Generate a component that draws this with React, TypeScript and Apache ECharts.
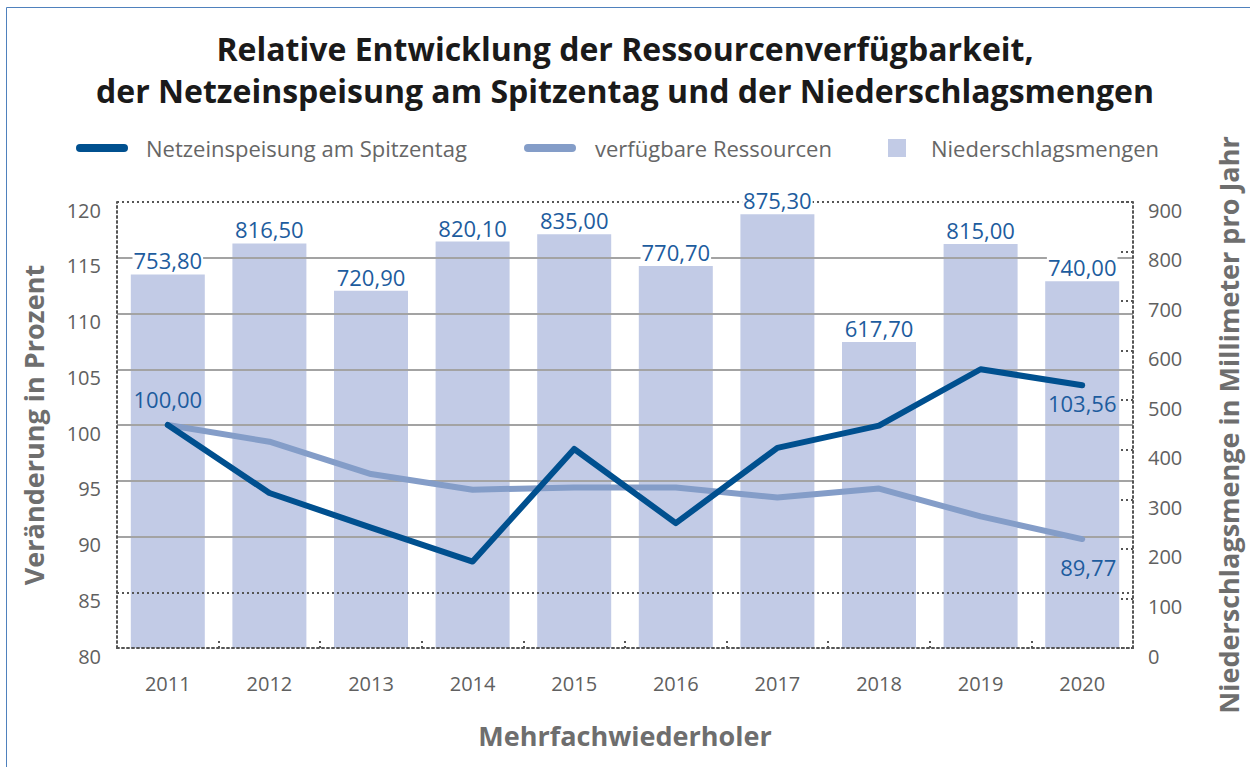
import React, { useEffect, useRef } from "react";
import * as echarts from "echarts";

const years = ["2011", "2012", "2013", "2014", "2015", "2016", "2017", "2018", "2019", "2020"];
const netzeinspeisung = [100.0, 93.9, 90.8, 87.75, 97.85, 91.2, 97.95, 99.95, 105.0, 103.56];
const ressourcen = [100.0, 98.5, 95.6, 94.2, 94.4, 94.4, 93.5, 94.3, 91.8, 89.77];
const niederschlag = [753.8, 816.5, 720.9, 820.1, 835.0, 770.7, 875.3, 617.7, 815.0, 740.0];

const leftMin = 80;
const leftMax = 120;
const leftInterval = 5;
const rightMin = 0;
const rightMax = 900;
const rightInterval = 100;

const NAME_NETZ = "Netzeinspeisung am Spitzentag";
const NAME_RES = "verfügbare Ressourcen";
const NAME_NIED = "Niederschlagsmengen";

const FONT = "'Open Sans', 'Noto Sans', sans-serif";
const DARK = "#00508f";
const LIGHT = "#849dc8";
const BAR = "#c2cbe6";
const LABEL_BLUE = "#1d5c9e";
const GREY_TEXT = "#606060";
const AXIS_TITLE = "#6e6e6e";
const GRID_GREY = "#a3a3a3";
const DOT = "#555555";
const DOT_TYPE: number[] = [2, 3];

const fmt = (v: number) => v.toFixed(2).replace(".", ",");

const capsule = "path://M4,0 L48,0 A4,4 0 0 1 48,8 L4,8 A4,4 0 0 1 4,0 Z";

export default function App() {
  const ref = useRef<HTMLDivElement>(null);

  useEffect(() => {
    if (!ref.current) return;
    const chart = echarts.init(ref.current, undefined, { renderer: "svg" });

    const last = years.length - 1;
    const netzData = netzeinspeisung.map((v, i) =>
      i === 0
        ? { value: v, label: { show: true, position: "top", distance: 15 } }
        : i === last
        ? { value: v, label: { show: true, position: "bottom", distance: 6 } }
        : v
    );
    const resData = ressourcen.map((v, i) =>
      i === last ? { value: v, label: { show: true, position: "bottom", distance: 16, offset: [6, 0] } } : v
    );

    const leftSplitColors = [
      "transparent", "transparent", GRID_GREY, GRID_GREY, GRID_GREY, GRID_GREY, GRID_GREY, GRID_GREY, "transparent",
    ];
    const dottedSplitColors = [
      "transparent", DOT, "transparent", "transparent", "transparent", "transparent", "transparent", "transparent", DOT,
    ];

    const legendText = (pad: number) => ({
      fontSize: 22,
      color: "#666666",
      fontFamily: FONT,
      padding: [0, 0, 0, pad],
    });

    const axisTitle = { fontSize: 27, fontWeight: "bold", color: AXIS_TITLE, fontFamily: FONT };

    chart.setOption({
      animation: false,
      textStyle: { fontFamily: FONT },
      title: {
        text: "Relative Entwicklung der Ressourcenverfügbarkeit,\nder Netzeinspeisung am Spitzentag und der Niederschlagsmengen",
        left: "center",
        top: 22,
        textStyle: {
          fontSize: 32,
          fontWeight: "bold",
          color: "#1a1a1a",
          fontFamily: FONT,
          lineHeight: 42,
        },
      },
      legend: [
        {
          data: [{ name: NAME_NETZ, icon: capsule }],
          left: 71,
          top: 132,
          itemWidth: 52,
          itemHeight: 8,
          textStyle: legendText(13),
          selectedMode: false,
        },
        {
          data: [{ name: NAME_RES, icon: capsule }],
          left: 519,
          top: 132,
          itemWidth: 52,
          itemHeight: 8,
          textStyle: legendText(14),
          selectedMode: false,
        },
        {
          data: [{ name: NAME_NIED, icon: "rect" }],
          left: 883,
          top: 132,
          itemWidth: 18,
          itemHeight: 18,
          textStyle: legendText(20),
          selectedMode: false,
        },
      ],
      grid: { left: 117, right: 115, top: 202, bottom: 119 },
      xAxis: {
        type: "category",
        data: years,
        z: 3,
        boundaryGap: true,
        name: "Mehrfachwiederholer",
        nameLocation: "middle",
        nameGap: 74,
        nameTextStyle: axisTitle,
        axisLine: { show: true, lineStyle: { color: DOT, width: 2, type: DOT_TYPE } },
        axisTick: { show: true, inside: true, length: 8, lineStyle: { color: DOT, width: 2, type: DOT_TYPE } },
        axisLabel: { fontSize: 20, color: GREY_TEXT, margin: 25, fontFamily: FONT },
        splitLine: { show: false },
      },
      yAxis: [
        {
          type: "value",
          position: "left",
          min: leftMin,
          max: leftMax,
          interval: leftInterval,
          z: 3,
          name: "Veränderung in Prozent",
          nameLocation: "middle",
          nameRotate: 90,
          nameGap: 70,
          nameTextStyle: axisTitle,
          axisLine: { show: true, lineStyle: { color: DOT, width: 2, type: DOT_TYPE } },
          axisTick: { show: false },
          axisLabel: {
            fontSize: 20,
            color: GREY_TEXT,
            margin: 16,
            verticalAlign: "top",
            lineHeight: 16,
            fontFamily: FONT,
          },
          splitLine: { show: true, lineStyle: { color: leftSplitColors, width: 2, type: "solid" } },
        },
        {
          type: "value",
          position: "right",
          min: rightMin,
          max: rightMax,
          interval: rightInterval,
          z: 3,
          name: "Niederschlagsmenge in Millimeter pro Jahr",
          nameLocation: "middle",
          nameRotate: 90,
          nameGap: 82,
          nameTextStyle: axisTitle,
          axisLine: { show: true, lineStyle: { color: DOT, width: 2, type: DOT_TYPE } },
          axisTick: { show: true, inside: true, length: 15, lineStyle: { color: DOT, width: 2, type: DOT_TYPE } },
          axisLabel: {
            fontSize: 20,
            color: GREY_TEXT,
            margin: 15,
            verticalAlign: "top",
            lineHeight: 16,
            fontFamily: FONT,
          },
          splitLine: { show: false },
        },
        {
          type: "value",
          position: "left",
          min: leftMin,
          max: leftMax,
          interval: leftInterval,
          z: 3,
          show: true,
          axisLine: { show: false },
          axisTick: { show: false },
          axisLabel: { show: false },
          splitLine: { show: true, lineStyle: { color: dottedSplitColors, width: 2, type: DOT_TYPE } },
        },
      ],
      series: [
        {
          name: NAME_NIED,
          type: "bar",
          yAxisIndex: 1,
          data: niederschlag,
          barWidth: 74,
          z: 2,
          itemStyle: { color: BAR },
        },
        {
          name: "labels",
          type: "bar",
          yAxisIndex: 1,
          data: niederschlag,
          barWidth: 74,
          barGap: "-100%",
          z: 6,
          silent: true,
          itemStyle: { color: "transparent" },
          label: {
            show: true,
            position: "top",
            distance: 3,
            formatter: (p: any) => fmt(p.value),
            fontSize: 22,
            color: LABEL_BLUE,
            fontFamily: FONT,
            backgroundColor: "#ffffff",
            padding: [0, 1, 0, 1],
          },
        },
        {
          name: NAME_RES,
          type: "line",
          yAxisIndex: 0,
          data: resData,
          z: 4,
          symbol: "circle",
          symbolSize: 1,
          showSymbol: true,
          itemStyle: { color: LIGHT },
          lineStyle: { color: LIGHT, width: 6, cap: "round", join: "round" },
          label: {
            show: false,
            formatter: (p: any) => fmt(p.value),
            fontSize: 22,
            color: LABEL_BLUE,
            fontFamily: FONT,
          },
        },
        {
          name: NAME_NETZ,
          type: "line",
          yAxisIndex: 0,
          data: netzData,
          z: 5,
          symbol: "circle",
          symbolSize: 1,
          showSymbol: true,
          itemStyle: { color: DARK },
          lineStyle: { color: DARK, width: 6, cap: "round", join: "round" },
          label: {
            show: false,
            formatter: (p: any) => fmt(p.value),
            fontSize: 22,
            color: LABEL_BLUE,
            fontFamily: FONT,
          },
        },
      ],
      graphic: [
        {
          type: "rect",
          silent: true,
          shape: { x: 6.5, y: 7.5, width: 1300, height: 800 },
          style: { fill: "none", stroke: "#4f81bd", lineWidth: 1 },
        },
      ],
    });

    return () => chart.dispose();
  }, []);

  return (
    <div
      ref={ref}
      style={{ position: "absolute", left: 0, top: 0, width: 1250, height: 767, background: "#ffffff" }}
    />
  );
}
